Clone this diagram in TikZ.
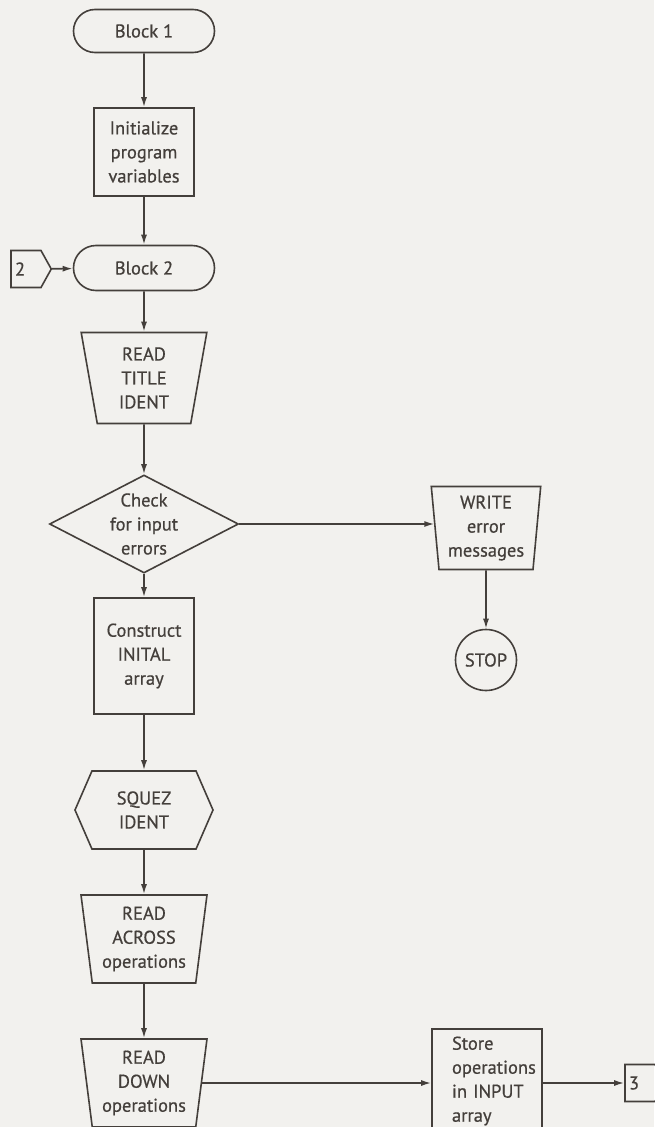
\documentclass[tikz,border=0pt]{standalone}
\usepackage{fontspec}
\newfontfamily\lbl{PT Sans}[FakeBold=0.6]
\usetikzlibrary{shapes.geometric,shapes.misc,shapes.symbols,arrows.meta}
\definecolor{ink}{HTML}{443F3B}
\definecolor{paper}{HTML}{F2F1EE}
\begin{document}
\begin{tikzpicture}[x=1pt,y=-1pt,
  base/.style={draw=ink, line width=1.6pt, text=ink, font=\lbl\fontsize{18.5}{24}\selectfont, align=center, inner sep=0pt},
  term/.style={base, rounded rectangle, minimum width=141pt, minimum height=43pt},
  proc/.style={base, rectangle, minimum width=100pt},
  rdio/.style={base, trapezium, trapezium stretches=true, shape border rotate=180,
     trapezium left angle=82, trapezium right angle=82, minimum width=126pt, minimum height=88pt},
  dec/.style={base, diamond, aspect=1.93, minimum width=189pt, minimum height=98pt},
  txt/.style={draw=none, text=ink, font=\lbl\fontsize{18.5}{24}\selectfont, align=center, inner sep=0pt},
  prep/.style={base, signal, signal to=west and east, signal pointer angle=133, minimum width=138pt, minimum height=78pt},
  offp/.style={base, signal, signal to=east, signal pointer angle=122, minimum width=35pt, minimum height=37pt, text width=22pt, align=left, inner xsep=4pt},
  term2/.style={base, circle, minimum size=61pt},
  conn/.style={draw=ink, line width=1.6pt, -{Latex[length=10pt,width=6pt]}}
]
\useasboundingbox (0,0) rectangle (654,1127);
\fill[paper] (0,0) rectangle (654,1127);

\node[term] (b1) at (144,31) {Block 1};
\node[proc, minimum height=88pt] (init) at (144,152) {Initialize\\program\\variables};
\node[term, minimum height=45pt] (b2) at (144,268) {Block 2};
\node[offp] (c2) at (26,269) {2};
\node[rdio, minimum height=91pt] (rti) at (144,378) {READ\\TITLE\\IDENT};
\node[dec] (chk) at (144,524) {};
\node[txt] (chkt) at (144,524) {Check\\for input\\errors};
\node[rdio, minimum width=110pt, minimum height=83pt, trapezium left angle=84.5, trapezium right angle=84.5] (wr) at (486,528) {WRITE\\error\\messages};
\node[term2] (stop) at (486,660) {STOP};
\node[proc, minimum height=116pt] (cons) at (144,656) {Construct\\INITAL\\array};
\node[prep] (sq) at (144,810) {SQUEZ\\IDENT};
\node[rdio] (ra) at (144,939) {READ\\ACROSS\\operations};
\node[rdio] (rd) at (144,1083) {READ\\DOWN\\operations};
\node[proc, minimum width=110pt, minimum height=108pt] (st) at (487,1083) {};
\node[txt, text width=88pt, align=left] (stt) at (496,1081) {Store\\operations\\in INPUT\\array};
\node[offp] (c3) at (640,1083) {3};

\draw[conn] (b1) -- (init);
\draw[conn] (init) -- (b2);
\draw[conn] (c2) -- (b2);
\draw[conn] (b2) -- (rti);
\draw[conn] (rti) -- (chk);
\draw[conn] (chk.east) -- (wr.west |- chk.east);
\draw[conn] (wr) -- (stop);
\draw[conn] (chk) -- (cons);
\draw[conn] (cons) -- (sq);
\draw[conn] (sq) -- (ra);
\draw[conn] (ra) -- (rd);
\draw[conn] (rd) -- (st);
\draw[conn] (st) -- (c3);
\end{tikzpicture}
\end{document}
